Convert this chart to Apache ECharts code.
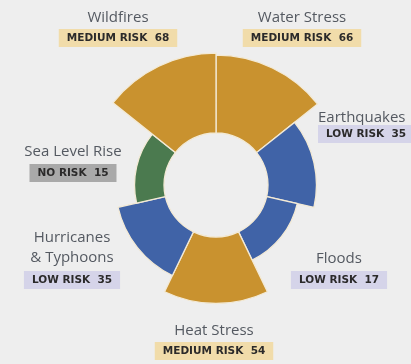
<!DOCTYPE html>
<html>
<head>
<meta charset="utf-8">
<script src="https://cdn.jsdelivr.net/npm/echarts@6/dist/echarts.min.js"></script>
<style>
  html, body { margin: 0; padding: 0; background: #eeeeee; }
  #chart { width: 411px; height: 364px; }
</style>
</head>
<body>
<div id="chart"></div>
<script>
// Hazards, clockwise from 12 o'clock
const categories = ['Water Stress', 'Earthquakes', 'Floods', 'Heat Stress', 'Hurricanes\n& Typhoons', 'Sea Level Rise', 'Wildfires'];
const values = [66, 35, 17, 54, 35, 15, 68];
const riskLevels = ['MEDIUM RISK', 'LOW RISK', 'LOW RISK', 'MEDIUM RISK', 'LOW RISK', 'NO RISK', 'MEDIUM RISK'];

// Styling per risk level
const riskFill = { 'MEDIUM RISK': '#c9922f', 'LOW RISK': '#4063a7', 'NO RISK': '#4b7a4f' };
const riskTag = { 'MEDIUM RISK': '#f1dcaa', 'LOW RISK': '#d5d4e9', 'NO RISK': '#a9a9a9' };

// Where each hazard's caption sits: [x, name y, tag y, align]
const captionLayout = [
  [302, 18, 38, 'center'],
  [318, 118, 134, 'left'],
  [339, 259, 280, 'center'],
  [214, 331, 351, 'center'],
  [72, 248, 280, 'center'],
  [73, 152, 173, 'center'],
  [118, 18, 38, 'center']
];

const graphics = [];
categories.forEach((name, i) => {
  const [x, ny, ty, align] = captionLayout[i];
  graphics.push({
    type: 'text', x: x, y: ny, silent: true,
    style: {
      text: name, align: align, verticalAlign: 'middle',
      font: '15px "Open Sans"', fill: '#545961', lineHeight: 20
    }
  });
  graphics.push({
    type: 'text', x: x, y: ty, silent: true,
    style: {
      text: riskLevels[i] + '  ' + values[i], align: align, verticalAlign: 'middle',
      font: 'bold 10.5px "DejaVu Sans"', fill: '#2b2a2a',
      backgroundColor: riskTag[riskLevels[i]], padding: [4, 8, 3, 8]
    }
  });
});

const chart = echarts.init(document.getElementById('chart'), null, { renderer: 'canvas' });
chart.setOption({
  backgroundColor: '#eeeeee',
  animation: false,
  polar: { center: [216, 185], radius: [52, 147] },
  angleAxis: {
    type: 'category', data: categories, startAngle: 90, clockwise: true,
    axisLine: { show: false }, axisTick: { show: false }, axisLabel: { show: false }, splitLine: { show: false }
  },
  radiusAxis: {
    type: 'value', min: -16, max: 84, startValue: -16,
    axisLine: { show: false }, axisTick: { show: false }, axisLabel: { show: false }, splitLine: { show: false }
  },
  series: [{
    type: 'bar', coordinateSystem: 'polar', barCategoryGap: '0%',
    data: values.map((v, i) => ({
      value: v,
      itemStyle: { color: riskFill[riskLevels[i]] }
    })),
    itemStyle: { borderColor: '#f3ead6', borderWidth: 1.3 }
  }],
  graphic: graphics
});
</script>
</body>
</html>
